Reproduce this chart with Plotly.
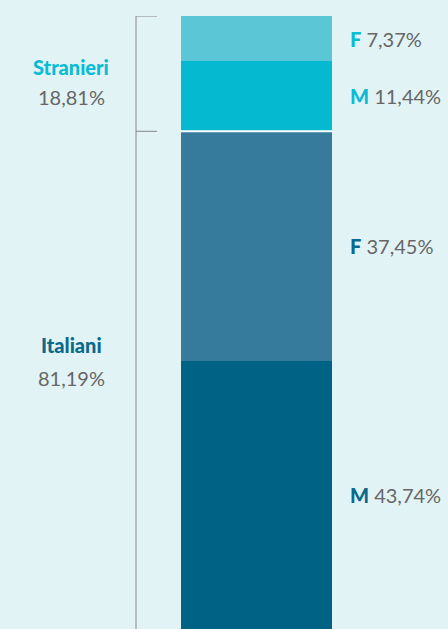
import plotly.graph_objects as go

# Data
groups = ["Italiani", "Italiani", "Stranieri", "Stranieri"]
sexes = ["M", "F", "M", "F"]
values = [43.74, 37.45, 11.44, 7.37]
value_labels = ["43,74%", "37,45%", "11,44%", "7,37%"]
group_names = ["Italiani", "Stranieri"]
group_totals = [81.19, 18.81]
group_labels = ["81,19%", "18,81%"]

bar_colors = ["#006385", "#367b9b", "#05bad0", "#5bc6d5"]
group_colors = {"Italiani": "#0b6a8c", "Stranieri": "#0abcd2"}
bg = "#e2f3f6"
txt_gray = "#666666"
FONT = "Lato, 'Open Sans', sans-serif"

fig = go.Figure()
for g, s, v, c in zip(groups, sexes, values, bar_colors):
    fig.add_trace(go.Bar(x=[0], y=[v], name=f"{g} {s}", marker=dict(color=c, line=dict(width=0)),
                         width=1, hoverinfo="skip"))

annotations = []
shapes = []
# right labels
cum = 0
for g, s, v, lab in zip(groups, sexes, values, value_labels):
    mid = cum + v / 2
    cum += v
    annotations.append(dict(
        x=348 / 448, xref="paper", y=mid, yref="y", xanchor="left", yanchor="middle",
        text=f"<span style='color:{group_colors[g]};font-weight:900'>{s}</span> {lab}",
        showarrow=False, font=dict(family=FONT, size=20, color=txt_gray)))

# group labels on left
cum = 0
shifts = {"Italiani": (35, 2), "Stranieri": (7, -23)}
for name, tot, lab in zip(group_names, group_totals, group_labels):
    mid = cum + tot / 2
    cum += tot
    s1, s2 = shifts[name]
    annotations.append(dict(x=71 / 448, xref="paper", y=mid, yref="y", yshift=s1,
                            text=name, showarrow=False, xanchor="center", yanchor="middle",
                            font=dict(family=FONT, size=20, color=group_colors[name], weight=900)))
    annotations.append(dict(x=71 / 448, xref="paper", y=mid, yref="y", yshift=s2,
                            text=lab, showarrow=False, xanchor="center", yanchor="middle",
                            font=dict(family=FONT, size=20, color=txt_gray)))

# bracket
bx0, bx1 = 136 / 448, 157 / 448
line_style = dict(color="#858585", width=1)
shapes.append(dict(type="line", xref="paper", yref="y", x0=bx0, x1=bx0, y0=0, y1=100, line=line_style))
shapes.append(dict(type="line", xref="paper", yref="y", x0=bx0, x1=bx1, y0=100, y1=100, line=line_style))
shapes.append(dict(type="line", xref="paper", yref="y", x0=bx0, x1=bx1, y0=group_totals[0], y1=group_totals[0], line=line_style))
# white gap between groups
shapes.append(dict(type="line", xref="x", yref="y", x0=-0.5, x1=0.5, y0=group_totals[0], y1=group_totals[0],
                   line=dict(color="white", width=2)))

fig.update_layout(
    barmode="stack",
    width=448, height=629,
    margin=dict(l=0, r=0, t=16, b=0),
    paper_bgcolor=bg, plot_bgcolor=bg,
    showlegend=False,
    xaxis=dict(range=[-1.699, 1.268], visible=False, fixedrange=True),
    yaxis=dict(range=[0, 100], visible=False, fixedrange=True),
    annotations=annotations,
    shapes=shapes,
    bargap=0,
)

fig.write_html("out.html", config={"displayModeBar": False},
               post_script="document.body.style.margin='0';document.body.style.overflow='hidden';")
